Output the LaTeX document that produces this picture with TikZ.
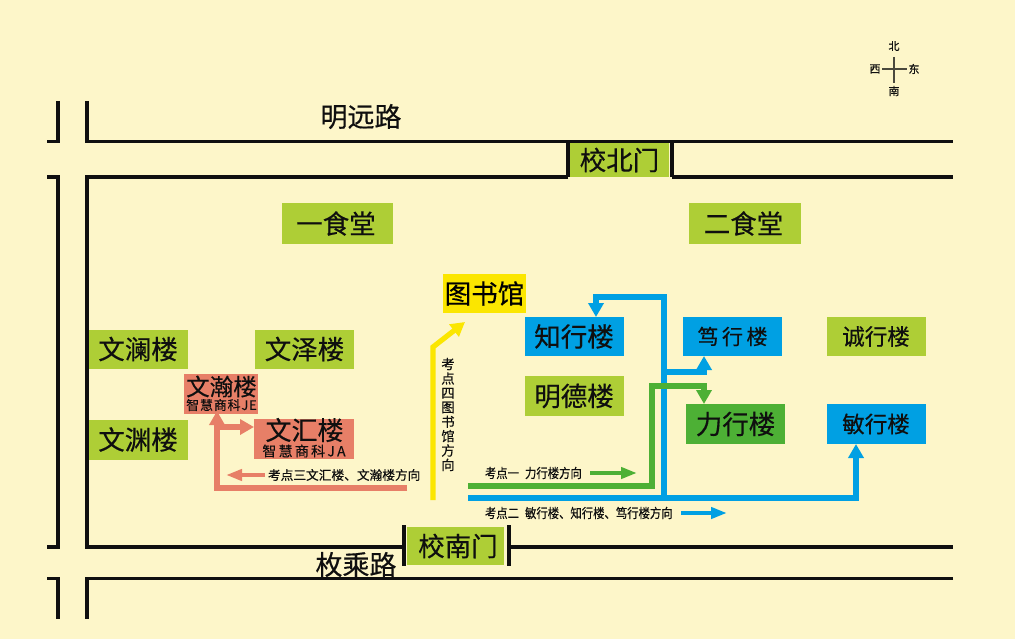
\documentclass[tikz,border=0pt]{standalone}
\usepackage{fontspec}
\setmainfont[FakeBold=0.35]{Noto Sans CJK SC}
\newfontfamily\condfont[FakeStretch=0.86,FakeBold=0.3]{Noto Sans CJK SC}
\newfontfamily\spacedfont[LetterSpace=16,FakeBold=0.3]{Noto Sans CJK SC}
\newfontfamily\spacedfontb[LetterSpace=6,FakeBold=0.3]{Noto Sans CJK SC}
\usetikzlibrary{arrows.meta}
\definecolor{bgc}{HTML}{FDF6C9}
\definecolor{lime}{HTML}{AECE36}
\definecolor{sky}{HTML}{00A0E3}
\definecolor{salmon}{HTML}{E77F67}
\definecolor{sun}{HTML}{FBE600}
\definecolor{leaf}{HTML}{4DB035}
\definecolor{ink}{HTML}{0F0F0F}
\newcommand{\fs}[1]{\fontsize{#1}{#1}\selectfont}
\tikzset{
  x=1pt,y=-1pt,
  bld/.style={inner sep=0pt,outer sep=0pt,minimum width=99pt,minimum height=40pt,text=ink,font=\fs{26.5}},
  road/.style={draw=ink,line width=3.4pt,line join=miter},
  lbl/.style={inner sep=0pt,outer sep=0pt,text=ink},
  route/.style={line width=5.2pt,line join=miter,-{Triangle[length=14pt,width=15pt]}},
  legend/.style={line width=4.2pt,-{Triangle[length=16pt,width=11pt]}},
  small/.style={lbl,font=\condfont\fs{13.2}},
}
\begin{document}
\begin{tikzpicture}
\useasboundingbox (0,0) rectangle (1015,639);
\fill[bgc] (0,0) rectangle (1015,639);

% roads
\draw[road] (87,101) -- (87,141.5) -- (953,141.5);
\draw[road] (58,101) -- (58,141.5) -- (47,141.5);
\draw[road] (47,177) -- (58,177) -- (58,547) -- (47,547);
\draw[road] (568,177) -- (87,177) -- (87,547) -- (404,547);
\draw[road] (672,177) -- (953,177);
\draw[road] (509,547) -- (953,547);
\draw[road] (953,578.5) -- (87,578.5) -- (87,619);
\draw[road] (47,578.5) -- (58,578.5) -- (58,619);
\draw[road] (568,141) -- (568,177);
\draw[road] (672,141) -- (672,177);
\draw[road] (404,525) -- (404,566);
\draw[road] (509,525) -- (509,566);

% compass
\draw[draw=ink!75!bgc,line width=1.3pt] (882,69) -- (907,69);
\draw[draw=ink!75!bgc,line width=1.3pt] (894,57) -- (894,83);
\node[lbl,font=\fs{11}] (cn) at (894,46) {北};
\node[lbl,font=\fs{11}] (cs) at (894,91) {南};
\node[lbl,font=\fs{11}] (cw) at (875,69) {西};
\node[lbl,font=\fs{11}] (ce) at (914,69) {东};

% road names
\node[lbl,font=\fs{27}] (mingyuan) at (361,116.5) {明远路};
\node[lbl,font=\fs{27}] (meicheng) at (356,564.5) {枚乘路};

% gates
\node[bld,fill=lime,minimum width=99pt,minimum height=34pt] (ngate) at (619.5,160) {校北门};
\node[bld,fill=lime,minimum width=97pt,minimum height=38pt] (sgate) at (455.5,546) {\hspace{5pt}校南门};

% buildings
\node[bld,fill=lime,minimum width=111pt,minimum height=41pt] (canteen1) at (337.5,223.5) {\hspace{-3pt}一食堂};
\node[bld,fill=lime,minimum width=112pt,minimum height=41pt] (canteen2) at (745,223.5) {\hspace{-3pt}二食堂};
\node[bld,fill=sun,minimum width=83pt,minimum height=39pt,text=black] (lib) at (484.5,293.5) {图书馆};
\node[bld,fill=sky,minimum height=39pt] (zhi) at (574,336.5) {知行楼};
\node[bld,fill=lime] (mingde) at (574,396) {明德楼};
\node[bld,fill=sky,minimum height=39pt,font=\fs{21}] (du) at (732.5,336.5) {笃\,行\,楼};
\node[bld,fill=leaf] (li) at (735.5,424) {力行楼};
\node[bld,fill=lime,minimum height=39pt,font=\fs{22.5}] (cheng) at (876,336.5) {诚行楼};
\node[bld,fill=sky,font=\fs{22.5}] (min) at (876,424) {敏行楼};
\node[bld,fill=lime,minimum height=39pt] (wenlan) at (138,349) {文澜楼};
\node[bld,fill=lime,minimum height=39pt] (wenze) at (304.5,349) {文泽楼};
\node[bld,fill=lime] (wenyuan) at (138,439.5) {文渊楼};
\node[bld,fill=salmon,minimum width=74pt] (han) at (221,394) {};
\node[lbl,font=\fs{23.5}] (hanA) at (221.5,386.5) {文瀚楼};
\node[lbl,font=\spacedfontb\fs{13}] (hanB) at (221.5,405) {智慧商科JE};
\node[bld,fill=salmon,minimum width=100pt] (hui) at (304,439) {};
\node[lbl,font=\fs{26}] (huiA) at (304.5,430) {文汇楼};
\node[lbl,font=\spacedfont\fs{14}] (huiB) at (304,451) {智慧商科JA};

% routes
\coordinate (sal0) at (407,488);
\coordinate (sal1) at (217,488);
\coordinate (sal2) at (217,427);
\draw[route,salmon,shorten >=-3pt] (sal0) -- (sal1) -- (sal1 |- han.south);
\draw[route,salmon] (sal2) -- (sal2 -| hui.west);

\coordinate (yel0) at (433,500);
\coordinate (yel1) at (433,347);
\coordinate (yel2) at (465,322);
\draw[route,sun] (yel0) -- (yel1) -- (yel2);

\coordinate (blu0) at (468,498);
\coordinate (bluA) at (856,498);
\coordinate (bluB) at (664,498);
\coordinate (bluC) at (664,297);
\coordinate (bluD) at (596,297);
\coordinate (bluE) at (664,372);
\coordinate (bluF) at (704,372);
\draw[route,sky] (blu0) -- (bluA) -- (bluA |- min.south);
\draw[route,sky] (bluB) -- (bluC) -- (bluD) -- (bluD |- zhi.north);
\draw[route,sky] (bluE) -- (bluF) -- (bluF |- du.south);

\coordinate (grn0) at (468,486);
\coordinate (grn1) at (652,486);
\coordinate (grn2) at (652,386);
\coordinate (grn3) at (704,386);
\draw[route,leaf] (grn0) -- (grn1) -- (grn2) -- (grn3) -- (grn3 |- li.north);

% legends
\coordinate (lgS0) at (265,475); \coordinate (lgS1) at (226,475);
\coordinate (lgG0) at (590,473); \coordinate (lgG1) at (637,473);
\coordinate (lgB0) at (681,513); \coordinate (lgB1) at (727,513);
\draw[legend,salmon] (lgS0) -- (lgS1);
\draw[legend,leaf] (lgG0) -- (lgG1);
\draw[legend,sky] (lgB0) -- (lgB1);

\node[lbl,font=\fs{12.7},anchor=west] (t3) at (268,475) {考点三文汇楼、文瀚楼方向};
\node[small,anchor=west] (t1) at (485,473) {考点一\hspace{6pt}力行楼方向};
\node[small,anchor=west] (t2) at (485,513) {考点二\hspace{6pt}敏行楼、知行楼、笃行楼方向};
\node[lbl,font=\fs{13.4},align=center] (t4) at (448,414.5)
  {考\\[1pt]点\\[1pt]四\\[1pt]图\\[1pt]书\\[1pt]馆\\[1pt]方\\[1pt]向};
\end{tikzpicture}
\end{document}
